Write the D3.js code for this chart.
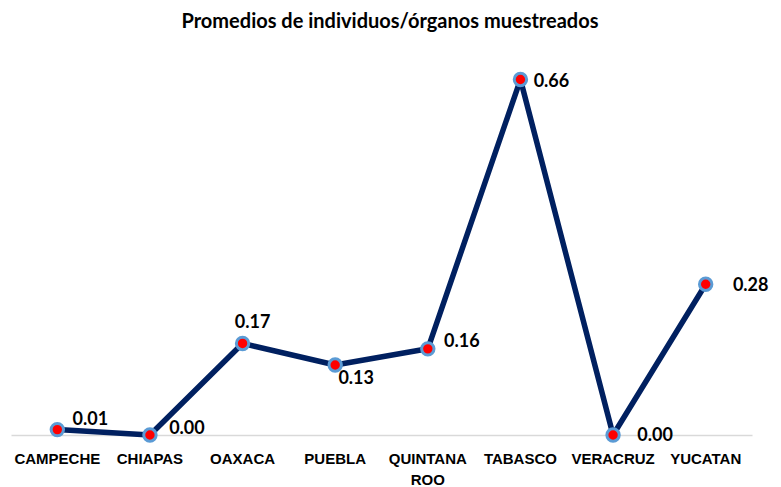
<!DOCTYPE html>
<html>
<head>
<meta charset="utf-8">
<script src="https://cdn.jsdelivr.net/npm/d3@7"></script>
<style>
  body { margin: 0; background: #fff; }
  svg { display: block; font-family: Lato, "Open Sans", sans-serif; }
</style>
</head>
<body>
<script>
// chart data
var states = ["CAMPECHE", "CHIAPAS", "OAXACA", "PUEBLA", "QUINTANA ROO", "TABASCO", "VERACRUZ", "YUCATAN"];
var promedios = [0.01, 0.00, 0.17, 0.13, 0.16, 0.66, 0.00, 0.28];
// where each data label sits relative to its point (dx, dy of text centre)
var labelOffsets = [[33, -11], [37, -7], [10, -22], [21, 13], [34, -8], [31, 1], [42, 0], [45, 0]];

var width = 781, height = 487;

var svg = d3.select("body")
    .append("svg")
    .attr("width", width)
    .attr("height", height);

var x = d3.scaleBand()
    .domain(states)
    .range([11, 752]);

var y = d3.scaleLinear()
    .domain([0, 0.7])
    .range([435, 58]);

// title
svg.append("text")
    .attr("x", 390)
    .attr("y", 28)
    .attr("text-anchor", "middle")
    .style("font-size", "20px")
    .style("font-weight", "bold")
    .text("Promedios de individuos/órganos muestreados");

// category axis
var xAxis = d3.axisBottom(x).tickSize(0).tickPadding(0);
var axis = svg.append("g")
    .attr("transform", "translate(0," + y(0) + ")")
    .call(xAxis);
axis.select(".domain")
    .attr("stroke", "#d9d9d9")
    .attr("stroke-width", 1.5);
axis.selectAll(".tick text").remove();

// tick labels (wrap QUINTANA ROO like the original)
axis.selectAll(".tick").each(function(d){
    var words = d === "QUINTANA ROO" ? ["QUINTANA", "ROO"] : [d];
    var t = d3.select(this).append("text")
        .attr("fill", "#000")
        .attr("text-anchor", "middle")
        .style("font-size", "15px")
        .style("font-weight", "bold");
    words.forEach(function(w, i){
        t.append("tspan")
            .attr("x", 0)
            .attr("y", 29 + i * 21)
            .text(w);
    });
});

// line
var line = d3.line()
    .x(function(d, i){ return x(states[i]) + x.bandwidth() / 2; })
    .y(function(d){ return y(d); });

svg.append("path")
    .datum(promedios)
    .attr("fill", "none")
    .attr("stroke", "#002060")
    .attr("stroke-width", 5.5)
    .attr("stroke-linejoin", "round")
    .attr("d", line);

// markers
svg.selectAll(".marker")
    .data(promedios)
    .enter()
    .append("circle")
    .attr("class", "marker")
    .attr("cx", function(d, i){ return x(states[i]) + x.bandwidth() / 2; })
    .attr("cy", function(d){ return y(d); })
    .attr("r", 6.2)
    .attr("fill", "#ff0000")
    .attr("stroke", "#5b9bd5")
    .attr("stroke-width", 3);

// data labels
svg.selectAll(".valueLabel")
    .data(promedios)
    .enter()
    .append("text")
    .attr("class", "valueLabel")
    .attr("x", function(d, i){ return x(states[i]) + x.bandwidth() / 2 + labelOffsets[i][0]; })
    .attr("y", function(d, i){ return y(d) + labelOffsets[i][1]; })
    .attr("dy", "0.35em")
    .attr("text-anchor", "middle")
    .style("font-size", "18px")
    .style("font-weight", "bold")
    .text(function(d){ return d3.format(".2f")(d); });
</script>
</body>
</html>
